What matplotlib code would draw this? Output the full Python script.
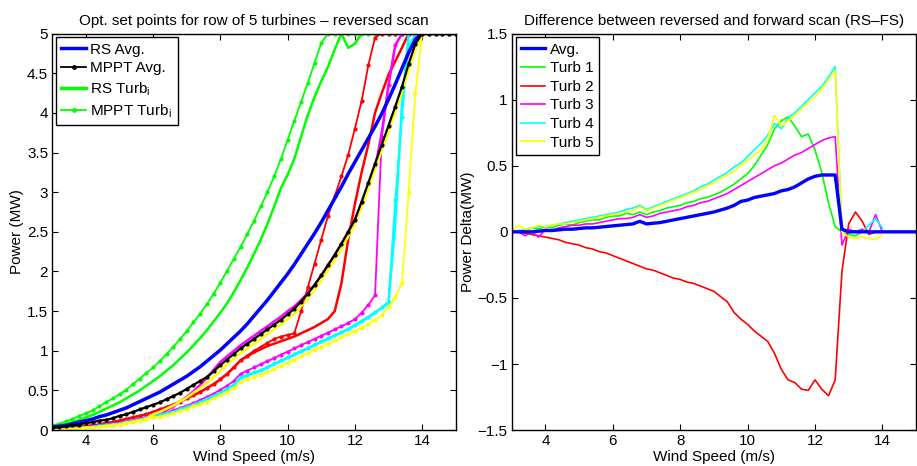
import numpy as np
import matplotlib
matplotlib.use("Agg")
import matplotlib.pyplot as plt
from matplotlib.lines import Line2D

plt.rcParams['font.family'] = ['Liberation Sans', 'DejaVu Sans']
plt.rcParams['font.size'] = 11

# wind speed grid (m/s)
wind = [round(3.0 + 0.2 * i, 1) for i in range(61)]
wind_d = wind[:56]  # difference data up to 14 m/s

# ---------------- left panel: power set points (MW) ----------------
rs_avg = [0.04, 0.05, 0.06, 0.08, 0.10, 0.12, 0.14, 0.17, 0.19, 0.22,
          0.25, 0.28, 0.32, 0.36, 0.40, 0.44, 0.48, 0.53, 0.58, 0.63,
          0.68, 0.74, 0.80, 0.87, 0.94, 1.01, 1.09, 1.17, 1.25, 1.34,
          1.44, 1.54, 1.64, 1.75, 1.86, 1.97, 2.09, 2.22, 2.35, 2.48,
          2.62, 2.77, 2.92, 3.07, 3.23, 3.38, 3.53, 3.68, 3.83, 3.99,
          4.17, 4.36, 4.56, 4.76, 4.93, 5.0, 5.0, 5.0, 5.0, 5.0, 5.0]
mppt_avg = [0.03, 0.04, 0.05, 0.06, 0.07, 0.09, 0.10, 0.12, 0.13, 0.15,
            0.18, 0.20, 0.23, 0.26, 0.29, 0.32, 0.35, 0.39, 0.43, 0.47,
            0.52, 0.57, 0.62, 0.67, 0.74, 0.82, 0.89, 0.96, 1.03, 1.09,
            1.15, 1.21, 1.27, 1.33, 1.39, 1.46, 1.53, 1.62, 1.72, 1.83,
            1.95, 2.08, 2.21, 2.35, 2.50, 2.65, 2.88, 3.12, 3.36, 3.60,
            3.84, 4.08, 4.33, 4.62, 4.87, 5.0, 5.0, 5.0, 5.0, 5.0, 5.0]
rs_t1 = [0.05, 0.06, 0.08, 0.10, 0.13, 0.16, 0.19, 0.23, 0.27, 0.31,
         0.35, 0.40, 0.45, 0.50, 0.56, 0.62, 0.68, 0.75, 0.82, 0.90,
         0.98, 1.07, 1.16, 1.26, 1.37, 1.48, 1.60, 1.74, 1.89, 2.05,
         2.22, 2.40, 2.60, 2.82, 3.05, 3.22, 3.42, 3.70, 3.97, 4.20,
         4.40, 4.58, 4.80, 5.0, 4.82, 4.87, 5.0, 5.0, 5.0, 5.0,
         5.0, 5.0, 5.0, 5.0, 5.0, 5.0, 5.0, 5.0, 5.0, 5.0, 5.0]
mppt_t1 = [0.06, 0.08, 0.11, 0.14, 0.18, 0.21, 0.25, 0.30, 0.35, 0.40,
           0.45, 0.51, 0.58, 0.65, 0.72, 0.79, 0.87, 0.96, 1.05, 1.15,
           1.25, 1.36, 1.47, 1.59, 1.72, 1.86, 2.01, 2.16, 2.31, 2.47,
           2.64, 2.82, 3.00, 3.20, 3.42, 3.66, 3.90, 4.14, 4.38, 4.63,
           4.88, 5.0, 5.0, 5.0, 5.0, 5.0, 5.0, 5.0, 5.0, 5.0,
           5.0, 5.0, 5.0, 5.0, 5.0, 5.0, 5.0, 5.0, 5.0, 5.0, 5.0]
rs_t2 = [0.01, 0.02, 0.02, 0.03, 0.04, 0.05, 0.06, 0.07, 0.09, 0.10,
         0.12, 0.14, 0.16, 0.18, 0.20, 0.23, 0.26, 0.29, 0.32, 0.36,
         0.40, 0.44, 0.48, 0.53, 0.58, 0.64, 0.71, 0.79, 0.88, 0.93,
         0.98, 1.02, 1.06, 1.09, 1.12, 1.15, 1.18, 1.22, 1.26, 1.30,
         1.35, 1.40, 1.50, 1.85, 2.40, 2.85, 3.25, 3.60, 4.00, 4.25,
         4.48, 4.65, 4.82, 5.0, 5.0, 5.0, 5.0, 5.0, 5.0, 5.0, 5.0]
mppt_t2 = [0.01, 0.02, 0.02, 0.03, 0.04, 0.05, 0.06, 0.07, 0.09, 0.10,
           0.12, 0.14, 0.16, 0.18, 0.20, 0.23, 0.26, 0.29, 0.32, 0.36,
           0.40, 0.44, 0.48, 0.53, 0.58, 0.64, 0.71, 0.79, 0.88, 0.94,
           1.00, 1.05, 1.10, 1.15, 1.18, 1.20, 1.22, 1.50, 1.80, 2.10,
           2.40, 2.70, 2.95, 3.20, 3.47, 3.80, 4.15, 4.60, 4.95, 5.0,
           5.0, 5.0, 5.0, 5.0, 5.0, 5.0, 5.0, 5.0, 5.0, 5.0, 5.0]
rs_t3 = [0.01, 0.01, 0.02, 0.02, 0.03, 0.04, 0.05, 0.06, 0.07, 0.08,
         0.09, 0.11, 0.12, 0.14, 0.16, 0.18, 0.21, 0.25, 0.30, 0.36,
         0.42, 0.49, 0.57, 0.66, 0.76, 0.86, 0.93, 1.00, 1.07, 1.13,
         1.19, 1.25, 1.31, 1.37, 1.43, 1.50, 1.56, 1.64, 1.73, 1.83,
         1.95, 2.08, 2.21, 2.35, 2.50, 2.65, 2.86, 3.08, 3.30, 3.75,
         4.35, 4.85, 5.0, 5.0, 5.0, 5.0, 5.0, 5.0, 5.0, 5.0, 5.0]
mppt_t3 = [0.01, 0.01, 0.02, 0.02, 0.03, 0.04, 0.05, 0.06, 0.07, 0.08,
           0.09, 0.11, 0.12, 0.14, 0.16, 0.18, 0.20, 0.22, 0.25, 0.28,
           0.31, 0.34, 0.38, 0.42, 0.46, 0.51, 0.56, 0.62, 0.71, 0.75,
           0.79, 0.83, 0.87, 0.91, 0.95, 0.99, 1.03, 1.07, 1.11, 1.15,
           1.19, 1.23, 1.27, 1.31, 1.35, 1.40, 1.48, 1.58, 1.70, 3.70,
           4.35, 4.85, 5.0, 5.0, 5.0, 5.0, 5.0, 5.0, 5.0, 5.0, 5.0]
rs_t4 = [0.0, 0.01, 0.01, 0.02, 0.03, 0.03, 0.04, 0.05, 0.06, 0.07,
         0.08, 0.10, 0.11, 0.13, 0.15, 0.17, 0.19, 0.21, 0.23, 0.26,
         0.29, 0.32, 0.35, 0.39, 0.43, 0.47, 0.52, 0.57, 0.66, 0.69,
         0.72, 0.75, 0.79, 0.83, 0.87, 0.91, 0.95, 0.99, 1.03, 1.07,
         1.11, 1.15, 1.19, 1.23, 1.27, 1.32, 1.37, 1.42, 1.48, 1.54,
         1.60, 2.60, 4.10, 5.0, 5.0, 5.0, 5.0, 5.0, 5.0, 5.0, 5.0]
mppt_t4 = [0.0, 0.01, 0.01, 0.02, 0.03, 0.03, 0.04, 0.05, 0.06, 0.07,
           0.08, 0.10, 0.11, 0.13, 0.15, 0.17, 0.19, 0.21, 0.23, 0.26,
           0.29, 0.32, 0.35, 0.39, 0.43, 0.47, 0.52, 0.57, 0.67, 0.70,
           0.73, 0.76, 0.80, 0.84, 0.88, 0.92, 0.96, 1.00, 1.04, 1.08,
           1.12, 1.16, 1.20, 1.24, 1.28, 1.33, 1.38, 1.43, 1.49, 1.55,
           1.62, 2.90, 3.95, 4.85, 5.0, 5.0, 5.0, 5.0, 5.0, 5.0, 5.0]
rs_t5 = [0.0, 0.0, 0.01, 0.01, 0.02, 0.03, 0.03, 0.04, 0.05, 0.06,
         0.07, 0.09, 0.10, 0.12, 0.14, 0.20, 0.23, 0.27, 0.31, 0.36,
         0.41, 0.47, 0.53, 0.60, 0.67, 0.75, 0.83, 0.90, 0.97, 1.03,
         1.09, 1.15, 1.21, 1.27, 1.33, 1.40, 1.47, 1.56, 1.66, 1.77,
         1.89, 2.02, 2.15, 2.29, 2.44, 2.59, 2.81, 3.05, 3.29, 3.53,
         3.77, 4.01, 4.26, 4.54, 4.80, 5.0, 5.0, 5.0, 5.0, 5.0, 5.0]
mppt_t5 = [0.0, 0.0, 0.01, 0.01, 0.02, 0.03, 0.03, 0.04, 0.05, 0.06,
           0.07, 0.09, 0.10, 0.12, 0.14, 0.16, 0.17, 0.19, 0.21, 0.24,
           0.27, 0.30, 0.33, 0.36, 0.40, 0.44, 0.48, 0.53, 0.61, 0.64,
           0.67, 0.70, 0.73, 0.77, 0.81, 0.85, 0.89, 0.93, 0.97, 1.01,
           1.05, 1.09, 1.13, 1.17, 1.21, 1.25, 1.29, 1.34, 1.39, 1.45,
           1.55, 1.68, 1.85, 3.00, 4.25, 5.0, 5.0, 5.0, 5.0, 5.0, 5.0]

# ---------------- right panel: RS - FS power difference (MW) ----------------
d_avg = [0.0, 0.0, 0.0, 0.0, 0.005, 0.01, 0.01, 0.015, 0.02, 0.02,
         0.025, 0.03, 0.03, 0.035, 0.04, 0.045, 0.05, 0.055, 0.06, 0.08,
         0.06, 0.065, 0.07, 0.08, 0.09, 0.10, 0.11, 0.12, 0.13, 0.14,
         0.15, 0.165, 0.18, 0.20, 0.23, 0.24, 0.26, 0.27, 0.28, 0.29,
         0.31, 0.32, 0.34, 0.37, 0.40, 0.42, 0.43, 0.43, 0.43, 0.02,
         0.0, 0.0, 0.0, 0.0, 0.0, 0.0, 0.0, 0.0, 0.0, 0.0, 0.0]
d_t1 = [0.0, 0.0, 0.01, 0.03, 0.02, 0.04, 0.03, 0.05, 0.06, 0.05,
        0.07, 0.08, 0.09, 0.09, 0.11, 0.12, 0.12, 0.14, 0.13, 0.15,
        0.13, 0.15, 0.16, 0.18, 0.19, 0.20, 0.22, 0.23, 0.25, 0.26,
        0.28, 0.30, 0.33, 0.36, 0.40, 0.44, 0.50, 0.58, 0.66, 0.78,
        0.84, 0.87, 0.80, 0.72, 0.74, 0.62, 0.45, 0.22, 0.04, 0.0,
        -0.02, -0.03, 0.0, 0.0, 0.0, 0.0]
d_t2 = [0.0, 0.0, -0.01, -0.02, -0.03, -0.04, -0.05, -0.06, -0.08, -0.09,
        -0.10, -0.12, -0.13, -0.15, -0.16, -0.18, -0.20, -0.22, -0.24, -0.26,
        -0.28, -0.29, -0.31, -0.33, -0.35, -0.36, -0.38, -0.39, -0.41, -0.43,
        -0.45, -0.49, -0.53, -0.61, -0.66, -0.70, -0.75, -0.79, -0.83, -0.92,
        -1.04, -1.12, -1.14, -1.19, -1.20, -1.12, -1.19, -1.24, -1.12, -0.30,
        0.06, 0.15, 0.08, -0.02, 0.0, 0.0]
d_t3 = [0.0, 0.0, -0.03, 0.0, -0.04, 0.02, 0.01, 0.03, 0.04, 0.05,
        0.05, 0.06, 0.06, 0.07, 0.08, 0.09, 0.10, 0.10, 0.11, 0.13,
        0.11, 0.12, 0.14, 0.15, 0.16, 0.17, 0.19, 0.20, 0.22, 0.23,
        0.25, 0.27, 0.29, 0.32, 0.35, 0.38, 0.41, 0.44, 0.47, 0.50,
        0.52, 0.55, 0.58, 0.60, 0.63, 0.66, 0.69, 0.71, 0.72, -0.10,
        0.02, 0.0, 0.02, 0.0, 0.13, 0.0]
d_t4 = [0.0, 0.01, 0.02, 0.03, 0.04, 0.04, 0.05, 0.06, 0.07, 0.08,
        0.09, 0.10, 0.11, 0.12, 0.13, 0.14, 0.15, 0.17, 0.18, 0.20,
        0.17, 0.19, 0.21, 0.23, 0.25, 0.27, 0.29, 0.31, 0.34, 0.36,
        0.39, 0.42, 0.45, 0.49, 0.52, 0.57, 0.62, 0.67, 0.73, 0.82,
        0.78, 0.86, 0.90, 0.95, 1.00, 1.05, 1.10, 1.17, 1.25, 0.0,
        0.0, 0.0, 0.0, 0.05, 0.10, 0.03]
d_t5 = [0.0, 0.05, 0.02, 0.03, 0.05, 0.04, 0.05, 0.06, 0.06, 0.07,
        0.08, 0.09, 0.10, 0.11, 0.12, 0.13, 0.14, 0.15, 0.16, 0.19,
        0.16, 0.18, 0.20, 0.22, 0.24, 0.26, 0.28, 0.30, 0.32, 0.35,
        0.37, 0.40, 0.43, 0.46, 0.50, 0.54, 0.58, 0.62, 0.70, 0.88,
        0.80, 0.84, 0.88, 0.93, 0.98, 1.02, 1.08, 1.15, 1.22, 0.0,
        -0.04, -0.05, -0.04, -0.05, -0.06, -0.02]

turb_colors = ['#00ff00', '#ff0000', '#ff00ff', '#00ffff', '#ffff00']

fig = plt.figure(figsize=(9.17, 4.66), dpi=100)
ax1 = fig.add_axes([0.057, 0.077, 0.440, 0.851])
ax2 = fig.add_axes([0.558, 0.077, 0.441, 0.851])

rs_list = [rs_t1, rs_t2, rs_t3, rs_t4, rs_t5]
mppt_list = [mppt_t1, mppt_t2, mppt_t3, mppt_t4, mppt_t5]
for i in range(5):
    ax1.plot(wind, rs_list[i], '-', color=turb_colors[i], lw=1.8)
    ax1.plot(wind, mppt_list[i], '.-', color=turb_colors[i], lw=1.3, ms=4)
ax1.plot(wind, rs_avg, '-', color='#0000ff', lw=2.5)
ax1.plot(wind, mppt_avg, '.-', color='k', lw=1.6, ms=4)

leg_kw = dict(loc='upper left', fancybox=False, edgecolor='k', framealpha=1,
              handlelength=1.6, handletextpad=0.3, borderpad=0.35, labelspacing=0.3,
              borderaxespad=0.25, fontsize=11)

h1 = [Line2D([], [], color='#0000ff', lw=2.5),
      Line2D([], [], color='k', lw=1.3, marker='.', ms=5),
      Line2D([], [], color='#00ff00', lw=2.5),
      Line2D([], [], color='#00ff00', lw=1.3, marker='.', ms=5)]
leg1 = ax1.legend(h1, ['RS Avg.', 'MPPT Avg.', r'RS Turb$_\mathregular{i}$', r'MPPT Turb$_\mathregular{i}$'],
                  **leg_kw)
leg1.get_frame().set_linewidth(1.0)

ax1.set_xlim(3, 15)
ax1.set_ylim(0, 5)
ax1.set_xticks([4, 6, 8, 10, 12, 14])
ax1.set_yticks([0, 0.5, 1, 1.5, 2, 2.5, 3, 3.5, 4, 4.5, 5])
ax1.set_yticklabels(['0', '0.5', '1', '1.5', '2', '2.5', '3', '3.5', '4', '4.5', '5'])
ax1.set_xlabel('Wind Speed (m/s)', labelpad=1)
ax1.set_ylabel('Power (MW)', labelpad=2)
ax1.set_title('Opt. set points for row of 5 turbines \u2013 reversed scan', fontsize=11, pad=6)

d_list = [d_t1, d_t2, d_t3, d_t4, d_t5]
for i in range(5):
    ax2.plot(wind_d, d_list[i], '-', color=turb_colors[i], lw=1.2)
ax2.plot(wind, d_avg, '-', color='#0000ff', lw=2.4)

h2 = [Line2D([], [], color='#0000ff', lw=2.4)] + [Line2D([], [], color=c, lw=1.2) for c in turb_colors]
leg2 = ax2.legend(h2, ['Avg.', 'Turb 1', 'Turb 2', 'Turb 3', 'Turb 4', 'Turb 5'], **leg_kw)
leg2.get_frame().set_linewidth(1.0)

ax2.set_xlim(3, 15)
ax2.set_ylim(-1.5, 1.5)
ax2.set_xticks([4, 6, 8, 10, 12, 14])
ax2.set_yticks([-1.5, -1, -0.5, 0, 0.5, 1, 1.5])
ax2.set_yticklabels(['\u22121.5', '\u22121', '\u22120.5', '0', '0.5', '1', '1.5'])
ax2.set_xlabel('Wind Speed (m/s)', labelpad=1)
ax2.set_ylabel('Power Delta(MW)', labelpad=2)
ax2.set_title('Difference between reversed and forward scan (RS\u2013FS)', fontsize=11, pad=6)

for ax in (ax1, ax2):
    ax.tick_params(direction='in', length=4, width=0.8, top=True, right=True, labelsize=11, pad=3)
    for s in ax.spines.values():
        s.set_linewidth(1.0)

fig.savefig('out.png', dpi=100)
